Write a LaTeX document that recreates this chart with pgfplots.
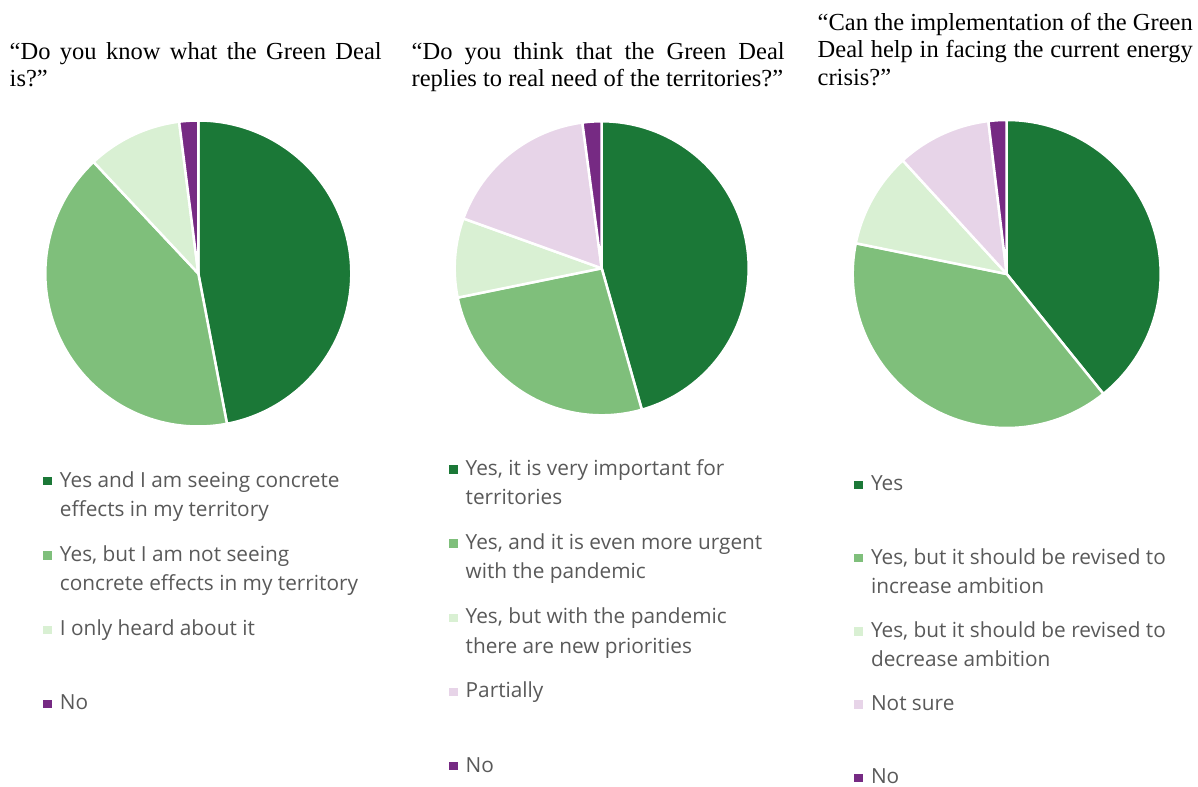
\documentclass[border=0pt]{standalone}
\usepackage{pgfplots}
\pgfplotsset{compat=1.18}
\usepackage{fontspec}
\setmainfont{Liberation Serif}
\newfontfamily\legfont{Open Sans}
\definecolor{pgA}{HTML}{1B7837}
\definecolor{pgB}{HTML}{7FBF7B}
\definecolor{pgC}{HTML}{D9F0D3}
\definecolor{pgD}{HTML}{E7D4E8}
\definecolor{pgE}{HTML}{762A83}
\definecolor{legtext}{HTML}{595959}

% slice: centre x, centre y, radius, cumulative start (%), value (%), colour
\newcommand{\slice}[6]{%
  \addplot[fill=#6, draw=white, line width=2.5bp, line join=round,
    domain=3.6*(#4):3.6*(#4+#5), samples=120, variable=\t]
    ({#1+#3*sin(\t)}, {#2+#3*cos(\t)}) -- (#1,#2) -- cycle;}
% legend entry: optional arg = vertical pitch of the entry
\newcommand{\entry}[2][74.2bp]{\parbox[t]{330bp}{\raggedright #2}\rule[\dimexpr19bp-#1\relax]{0pt}{#1}}

\pgfplotsset{pieaxis/.style={
  at={(0bp,0bp)}, anchor=south west, scale only axis,
  width=1198bp, height=787bp,
  xmin=0, xmax=1198, ymin=0, ymax=787,
  hide axis, clip=false,
  legend image code/.code={\fill[##1, draw=none] (0bp,1.8bp) rectangle (8.5bp,10.1bp);},
  legend style={draw=none, fill=none, inner sep=0pt, outer sep=0pt,
     anchor=north west, row sep=0pt, column sep=8.2bp,
     cells={anchor=base west}, nodes={inner sep=0pt, text depth=},
     font=\legfont\fontsize{20.8bp}{29.4bp}\selectfont, text=legtext},
}}

\begin{document}
\begin{tikzpicture}
\useasboundingbox (0bp,0bp) rectangle (1198bp,787bp);

% Pie 1
\begin{axis}[pieaxis, legend style={at={(0.03614,0.40496)}}]
\slice{198.3}{513.5}{153}{0}{47}{pgA}
\addlegendentry{\entry{Yes and I am seeing concrete\newline effects in my territory}}
\slice{198.3}{513.5}{153}{47}{41}{pgB}
\addlegendentry{\entry{Yes, but I am not seeing\newline concrete effects in my territory}}
\slice{198.3}{513.5}{153}{88}{10}{pgC}
\addlegendentry{\entry{I only heard about it}}
\slice{198.3}{513.5}{153}{98}{2}{pgE}
\addlegendentry{\entry[19bp]{No}}
\end{axis}

% Pie 2
\begin{axis}[pieaxis, legend style={at={(0.37479,0.42020)}}]
\slice{601.7}{518.7}{147}{0}{45.6}{pgA}
\addlegendentry{\entry{Yes, it is very important for\newline territories}}
\slice{601.7}{518.7}{147}{45.6}{26.2}{pgB}
\addlegendentry{\entry{Yes, and it is even more urgent\newline with the pandemic}}
\slice{601.7}{518.7}{147}{71.8}{8.7}{pgC}
\addlegendentry{\entry{Yes, but with the pandemic\newline there are new priorities}}
\slice{601.7}{518.7}{147}{80.5}{17.4}{pgD}
\addlegendentry{\entry{Partially}}
\slice{601.7}{518.7}{147}{97.9}{2.1}{pgE}
\addlegendentry{\entry[19bp]{No}}
\end{axis}

% Pie 3
\begin{axis}[pieaxis, legend style={at={(0.71311,0.40025)}}]
\slice{1006.7}{513}{154}{0}{39.2}{pgA}
\addlegendentry{\entry[73.2bp]{Yes}}
\slice{1006.7}{513}{154}{39.2}{39.0}{pgB}
\addlegendentry{\entry[73.2bp]{Yes, but it should be revised to\newline increase ambition}}
\slice{1006.7}{513}{154}{78.2}{10.0}{pgC}
\addlegendentry{\entry[73.2bp]{Yes, but it should be revised to\newline decrease ambition}}
\slice{1006.7}{513}{154}{88.2}{9.9}{pgD}
\addlegendentry{\entry[73.2bp]{Not sure}}
\slice{1006.7}{513}{154}{98.1}{1.9}{pgE}
\addlegendentry{\entry[19bp]{No}}
\end{axis}

% Titles
\begin{scope}[every node/.style={anchor=north west, inner sep=0pt, align=justify,
    font=\fontsize{24.5bp}{27.5bp}\selectfont}]
\node[text width=372bp] at (9.5bp,745bp) {“Do you know what the Green Deal\linebreak is?”};
\node[text width=373bp] at (411.5bp,745bp) {“Do you think that the Green Deal\linebreak replies to real need of the territories?”};
\node[text width=375bp] at (817.5bp,774bp) {“Can the implementation of the Green\linebreak Deal help in facing the current energy\linebreak crisis?”};
\end{scope}
\end{tikzpicture}
\end{document}
